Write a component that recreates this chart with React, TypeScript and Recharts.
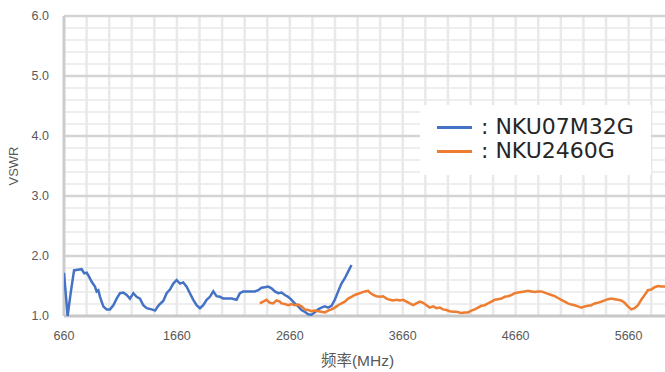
import React from 'react';
import { LineChart, Line, XAxis, YAxis, ReferenceLine, Legend } from 'recharts';

// NKU07M32G (blue)
const nku07Freq = [660, 692, 719, 749, 781, 816, 840, 861, 875, 905, 934, 949, 964, 979, 1008, 1038, 1067, 1097, 1126, 1156, 1185, 1215, 1244, 1274, 1303, 1333, 1362, 1392, 1436, 1466, 1495, 1510, 1539, 1569, 1598, 1628, 1657, 1687, 1716, 1746, 1775, 1805, 1834, 1864, 1893, 1923, 1952, 1982, 2011, 2041, 2070, 2100, 2144, 2188, 2218, 2247, 2306, 2350, 2380, 2409, 2439, 2468, 2498, 2527, 2557, 2586, 2616, 2645, 2675, 2704, 2734, 2763, 2793, 2822, 2852, 2881, 2911, 2940, 2970, 2999, 3029, 3058, 3088, 3117, 3147, 3176, 3206];
const nku07Vswr = [1.72, 1.0, 1.38, 1.76, 1.77, 1.78, 1.71, 1.72, 1.68, 1.57, 1.49, 1.41, 1.43, 1.32, 1.16, 1.11, 1.11, 1.18, 1.29, 1.38, 1.39, 1.35, 1.29, 1.38, 1.32, 1.29, 1.18, 1.13, 1.11, 1.09, 1.17, 1.2, 1.25, 1.38, 1.44, 1.54, 1.6, 1.54, 1.56, 1.49, 1.38, 1.27, 1.18, 1.13, 1.18, 1.27, 1.32, 1.41, 1.33, 1.32, 1.29, 1.29, 1.29, 1.27, 1.38, 1.41, 1.41, 1.41, 1.43, 1.47, 1.48, 1.49, 1.46, 1.41, 1.38, 1.39, 1.35, 1.32, 1.27, 1.21, 1.16, 1.1, 1.07, 1.03, 1.02, 1.06, 1.11, 1.14, 1.16, 1.14, 1.17, 1.27, 1.41, 1.54, 1.63, 1.74, 1.85];

// NKU2460G (orange)
const nku2460Freq = [2394, 2424, 2453, 2483, 2512, 2542, 2571, 2586, 2616, 2645, 2675, 2704, 2734, 2763, 2793, 2822, 2852, 2881, 2911, 2940, 2970, 2999, 3029, 3058, 3088, 3117, 3147, 3176, 3206, 3235, 3265, 3294, 3324, 3353, 3368, 3398, 3427, 3457, 3486, 3516, 3545, 3575, 3604, 3634, 3663, 3693, 3722, 3752, 3781, 3811, 3840, 3870, 3899, 3929, 3958, 3988, 4017, 4047, 4076, 4106, 4135, 4179, 4209, 4238, 4268, 4297, 4327, 4356, 4386, 4415, 4445, 4474, 4504, 4533, 4563, 4592, 4622, 4651, 4681, 4710, 4740, 4769, 4799, 4828, 4858, 4887, 4917, 4946, 4976, 5005, 5035, 5064, 5094, 5123, 5153, 5182, 5212, 5241, 5271, 5300, 5330, 5359, 5389, 5418, 5448, 5477, 5507, 5536, 5566, 5595, 5625, 5654, 5684, 5713, 5743, 5772, 5802, 5831, 5861, 5890, 5920, 5949, 5979, 6000];
const nku2460Vswr = [1.21, 1.24, 1.27, 1.22, 1.21, 1.26, 1.24, 1.21, 1.2, 1.18, 1.2, 1.18, 1.19, 1.16, 1.11, 1.1, 1.08, 1.09, 1.08, 1.07, 1.06, 1.09, 1.11, 1.14, 1.18, 1.21, 1.24, 1.29, 1.32, 1.35, 1.37, 1.39, 1.41, 1.42, 1.39, 1.35, 1.33, 1.32, 1.33, 1.29, 1.27, 1.26, 1.27, 1.26, 1.27, 1.24, 1.21, 1.18, 1.21, 1.24, 1.22, 1.18, 1.14, 1.16, 1.13, 1.14, 1.11, 1.1, 1.08, 1.07, 1.07, 1.05, 1.06, 1.06, 1.09, 1.11, 1.14, 1.17, 1.18, 1.21, 1.24, 1.27, 1.28, 1.29, 1.32, 1.33, 1.35, 1.38, 1.39, 1.4, 1.41, 1.42, 1.41, 1.4, 1.41, 1.41, 1.39, 1.37, 1.35, 1.33, 1.3, 1.27, 1.24, 1.21, 1.19, 1.18, 1.16, 1.14, 1.16, 1.17, 1.18, 1.21, 1.22, 1.24, 1.26, 1.28, 1.29, 1.28, 1.27, 1.26, 1.22, 1.16, 1.11, 1.13, 1.18, 1.27, 1.35, 1.43, 1.44, 1.48, 1.5, 1.49, 1.49, 1.49];

const xTicks = [660, 1660, 2660, 3660, 4660, 5660];
const xMinorGrid = [860, 1060, 1260, 1460, 1660, 1860, 2060, 2260, 2460, 2660, 2860, 3060, 3260, 3460, 3660, 3860, 4060, 4260, 4460, 4660, 4860, 5060, 5260, 5460, 5660, 5860];
const yTicks = [1, 2, 3, 4, 5, 6];
const yMinorGrid = [1.2, 1.4, 1.6, 1.8, 2.2, 2.4, 2.6, 2.8, 3.2, 3.4, 3.6, 3.8, 4.2, 4.4, 4.6, 4.8, 5.2, 5.4, 5.6, 5.8];
const seriesNames = ['NKU07M32G', 'NKU2460G'];
const seriesColors = ['#4472C4', '#ED7D31'];

const nku07Data = nku07Freq.map((f, i) => ({ f, v: nku07Vswr[i] }));
const nku2460Data = nku2460Freq.map((f, i) => ({ f, v: nku2460Vswr[i] }));

const tickFont = { fontFamily: "'Liberation Sans', Arial, sans-serif", fontSize: 12.5, fill: '#595959' };

const LegendBox = () => (
  <div style={{ background: '#fff', width: 231, height: 70, boxSizing: 'border-box', paddingTop: 10, paddingLeft: 17 }}>
    {seriesNames.map((n, i) => (
      <div key={n} style={{ display: 'flex', alignItems: 'center', height: 24 }}>
        <div style={{ width: 35, height: 3, background: seriesColors[i] }} />
        <span style={{ marginLeft: 9, fontFamily: "'DejaVu Sans', sans-serif", fontSize: 22, color: '#262626', lineHeight: '24px', whiteSpace: 'pre' }}>{': ' + n}</span>
      </div>
    ))}
  </div>
);

export default function App() {
  return (
    <div style={{ position: 'absolute', left: 0, top: 0, width: 665, height: 372, overflow: 'hidden', background: '#fff' }}>
      <LineChart width={668} height={372} margin={{ top: 16, right: 1, bottom: 0, left: 0 }}>
        <XAxis
          dataKey="f"
          type="number"
          domain={[660, 6000]}
          ticks={xTicks}
          allowDataOverflow
          height={56}
          tickLine={false}
          tickSize={0}
          tickMargin={15}
          axisLine={false}
          tick={tickFont}
          label={{
            content: (props: any) => {
              const vb = props.viewBox || { x: 64, y: 316, width: 603, height: 56 };
              return (
                <text x={vb.x + vb.width / 2 - 8} y={366} textAnchor="middle" fontFamily="'Liberation Sans', 'Noto Sans CJK SC', sans-serif" fontSize={15.5} fill="#595959">
                  频率(MHz)
                </text>
              );
            },
          }}
        />
        <YAxis
          type="number"
          domain={[1, 6]}
          ticks={yTicks}
          width={64}
          tickLine={false}
          tickSize={0}
          tickMargin={15}
          axisLine={false}
          tick={tickFont}
          tickFormatter={(v: number) => v.toFixed(1)}
          label={{
            content: () => (
              <text x={0} y={0} transform="translate(18,166) rotate(-90)" textAnchor="middle" fontFamily="'Liberation Sans', Arial, sans-serif" fontSize={13} fill="#595959">
                VSWR
              </text>
            ),
          }}
        />
        {yMinorGrid.map((y) => (
          <ReferenceLine key={'hy' + y} y={y} stroke="#eeeeee" strokeWidth={2} />
        ))}
        {xMinorGrid.map((x) => (
          <ReferenceLine key={'vx' + x} x={x} stroke="#e9e9e9" strokeWidth={2.5} />
        ))}
        {yTicks.slice(1).map((y) => (
          <ReferenceLine key={'my' + y} y={y} stroke="#d4d4d4" strokeWidth={2.5} />
        ))}
        <ReferenceLine x={660} stroke="#cccccc" strokeWidth={3} />
        <ReferenceLine y={1} stroke="#c8c8c8" strokeWidth={3} />
        <Legend
          layout="horizontal"
          verticalAlign="middle"
          align="center"
          content={() => <LegendBox />}
          wrapperStyle={{ position: 'absolute', left: 420, top: 105, width: 231, height: 70 }}
        />
        <Line data={nku07Data} dataKey="v" name={seriesNames[0]} stroke={seriesColors[0]} strokeWidth={2.5} dot={false} isAnimationActive={false} />
        <Line data={nku2460Data} dataKey="v" name={seriesNames[1]} stroke={seriesColors[1]} strokeWidth={2.5} dot={false} isAnimationActive={false} />
      </LineChart>
    </div>
  );
}
